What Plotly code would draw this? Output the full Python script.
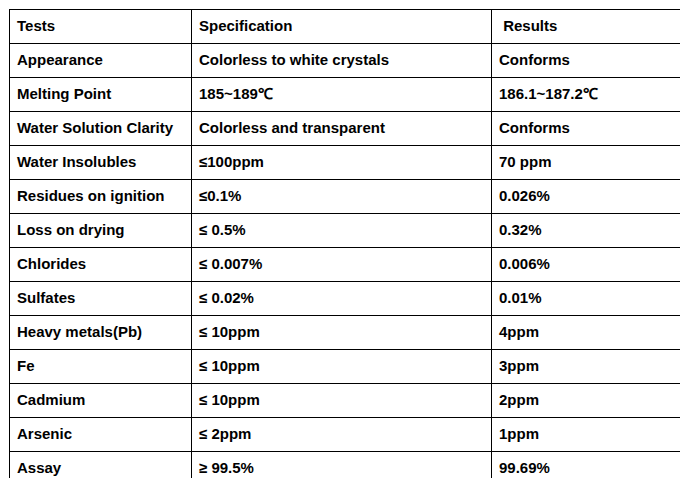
import plotly.graph_objects as go

header = ["Tests", "Specification", " Results"]
tests = ["Appearance", "Melting Point", "Water Solution Clarity", "Water Insolubles",
         "Residues on ignition", "Loss on drying", "Chlorides", "Sulfates",
         "Heavy metals(Pb)", "Fe", "Cadmium", "Arsenic", "Assay"]
specs = ["Colorless to white crystals", "185~189℃", "Colorless and transparent",
         "≤100ppm", "≤0.1%", "≤ 0.5%", "≤ 0.007%", "≤ 0.02%", "≤ 10ppm",
         "≤ 10ppm", "≤ 10ppm", "≤ 2ppm", "≥ 99.5%"]
results = ["Conforms", "186.1~187.2℃", "Conforms", "70 ppm", "0.026%", "0.32%",
           "0.006%", "0.01%", "4ppm", "3ppm", "2ppm", "1ppm", "99.69%"]

bold = lambda xs: [f"<b>{x}</b>" for x in xs]
font = dict(family="Liberation Sans, Arial", size=15, color="black")

fig = go.Figure(go.Table(
    columnwidth=[182, 300, 204],
    header=dict(values=bold(header), align="left", height=34, font=font,
                fill_color="white", line=dict(color="black", width=1)),
    cells=dict(values=[bold(tests), bold(specs), bold(results)], align="left",
               height=34, font=font, fill_color="white",
               line=dict(color="black", width=1)),
    domain=dict(x=[0, 1], y=[0, 1]),
))
fig.update_layout(width=688, height=478, margin=dict(l=1, r=1, t=1, b=0),
                  paper_bgcolor="white")
fig.write_html("out.html")
